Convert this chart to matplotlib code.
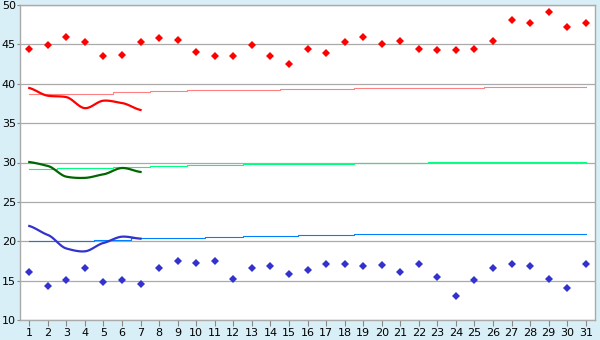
import matplotlib
matplotlib.use("Agg")
import matplotlib.pyplot as plt
import numpy as np

# days of the month
days = list(range(1, 32))

# upper / lower daily readings (markers)
upper_pts = [44.4, 44.9, 46.0, 45.3, 43.5, 43.6, 45.3, 45.8, 45.6, 44.0,
             43.5, 43.5, 44.9, 43.5, 42.5, 44.4, 43.9, 45.3, 46.0, 45.0,
             45.4, 44.4, 44.25, 44.25, 44.4, 45.4, 48.1, 47.7, 49.1, 47.2, 47.7]
lower_pts = [16.05, 14.27, 15.04, 16.56, 14.78, 15.04, 14.53, 16.56, 17.45, 17.2,
             17.45, 15.17, 16.56, 16.82, 15.8, 16.3, 17.07, 17.07, 16.82, 16.94,
             16.05, 17.07, 15.42, 13.0, 15.04, 16.56, 17.07, 16.82, 15.17, 14.02, 17.07]

# smoothed curves for the first week
week = [1, 2, 3, 4, 5, 6, 7]
red_curve = [39.46, 38.48, 38.3, 36.9, 37.85, 37.55, 36.67]
green_curve = [30.06, 29.56, 28.2, 28.05, 28.5, 29.3, 28.8]
blue_curve = [21.94, 20.8, 19.08, 18.72, 19.78, 20.58, 20.33]

# slowly rising reference lines
red_ref = [38.66] * 5 + [38.9] * 2 + [39.05] * 2 + [39.2] * 5 + [39.3] * 4 + [39.42] * 7 + [39.55] * 6
green_ref = [29.14] * 2 + [29.26] * 3 + [29.39] * 2 + [29.52] * 2 + [29.64] * 3 + [29.8] * 6 + [29.94] * 4 + [30.02] * 9
blue_ref = [20.0] * 4 + [20.2] * 2 + [20.35] * 4 + [20.5] * 2 + [20.63] * 3 + [20.76] * 3 + [20.88] * 13


def smooth(x, y, k=0.3, n=20):
    """Cubic Hermite curve through the points, gentle tangents"""
    x = np.asarray(x, float)
    y = np.asarray(y, float)
    my = np.gradient(y) * 2 * k
    my[0] = (y[1] - y[0]) * k * 2
    my[-1] = (y[-1] - y[-2]) * k * 2
    xs, ys = [], []
    t = np.linspace(0, 1, n, endpoint=False)
    h00 = 2 * t ** 3 - 3 * t ** 2 + 1
    h10 = t ** 3 - 2 * t ** 2 + t
    h01 = -2 * t ** 3 + 3 * t ** 2
    h11 = t ** 3 - t ** 2
    for i in range(len(x) - 1):
        xs.extend(x[i] + t * (x[i + 1] - x[i]))
        ys.extend(h00 * y[i] + h10 * my[i] + h01 * y[i + 1] + h11 * my[i + 1])
    xs.append(x[-1])
    ys.append(y[-1])
    return xs, ys


bg = '#d9eff7'
grid_col = '#aaaaaa'

fig = plt.figure(figsize=(6, 3.4), dpi=100, facecolor=bg)
ax = fig.add_axes([20 / 600, 1 - 320 / 340, 575 / 600, 315 / 340])
ax.set_facecolor('white')

ax.plot(days, red_ref, color='#ff8080', lw=0.8, drawstyle='steps-mid', zorder=3)
ax.plot(days, green_ref, color='#00ff80', lw=0.8, drawstyle='steps-mid', zorder=3)
ax.plot(days, blue_ref, color='#0080ff', lw=0.8, drawstyle='steps-mid', zorder=3)

for vals, col in ((red_curve, '#ff0000'), (green_curve, '#006600'), (blue_curve, '#3333cc')):
    sx, sy = smooth(week, vals)
    ax.plot(sx, sy, color=col, lw=1.6, zorder=4)

ax.plot(days, upper_pts, ls='none', marker='D', ms=4.2, color='#ff0000', mew=0, zorder=5)
ax.plot(days, lower_pts, ls='none', marker='D', ms=4.2, color='#3333cc', mew=0, zorder=5)

ax.set_xlim(0.5, 31.5)
ax.set_ylim(10, 50)
ax.set_xticks(days)
ax.set_yticks(range(10, 51, 5))
ax.yaxis.grid(True, color=grid_col, lw=0.9)
ax.set_axisbelow(True)
for s in ax.spines.values():
    s.set_color(grid_col)
    s.set_linewidth(1.0)
ax.tick_params(axis='x', length=4, width=0.8, color='#888888', pad=2, labelsize=8)
ax.tick_params(axis='y', length=2, width=0.8, color='#888888', pad=1, labelsize=8)

plt.savefig('out.png', dpi=100, facecolor=bg)
